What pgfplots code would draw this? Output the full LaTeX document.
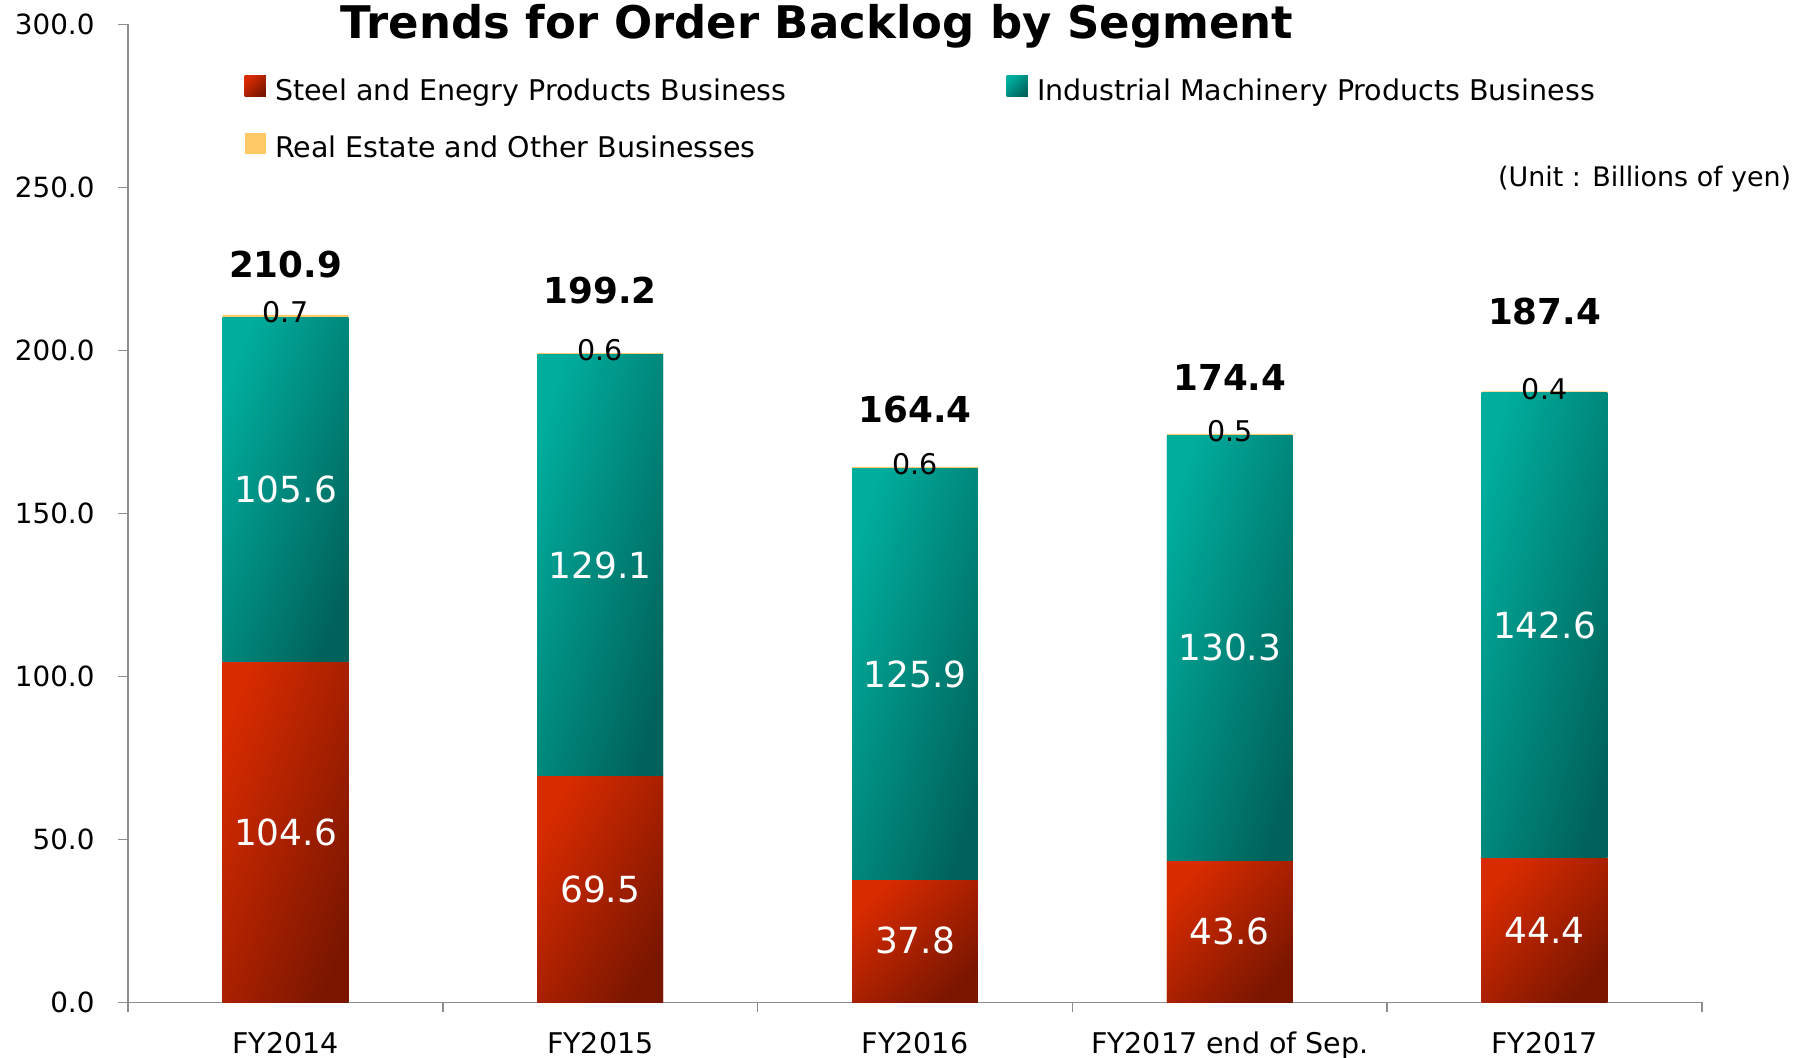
\documentclass[border=0pt]{standalone}
\usepackage{pgfplots}
\pgfplotsset{compat=1.18}
\usepackage{fontspec}
\setmainfont{DejaVu Sans}

\definecolor{redA}{HTML}{D82B00}
\definecolor{redM}{HTML}{A82000}
\definecolor{redB}{HTML}{7A1600}
\definecolor{tealA}{HTML}{00AE9E}
\definecolor{tealM}{HTML}{00887C}
\definecolor{tealB}{HTML}{00625A}
\definecolor{gold}{HTML}{FFC965}
\definecolor{axgray}{HTML}{8C8C8C}

% order backlog, billions of yen; dist = gap (pt) of the bold total above the bar
\pgfplotstableread{
x steel machinery other total dist
0 104.6 105.6 0.7 210.9 16
1 69.5 129.1 0.6 199.2 21
2 37.8 125.9 0.6 164.4 19
3 43.6 130.3 0.5 174.4 18.5
4 44.4 142.6 0.4 187.4 28.5
}\backlog

\begin{document}
\begin{tikzpicture}
\begin{axis}[
  ybar stacked,
  reverse stacked plots=false,
  scale only axis,
  width=679pt, height=422pt,
  bar width=54.3pt,
  xmin=-0.5, xmax=4.5,
  ymin=0, ymax=300,
  clip=false,
  axis lines*=left,
  axis line style={draw=axgray, line width=0.6pt},
  tick style={draw=axgray, line width=0.6pt},
  tick align=outside,
  major tick length=4.3pt,
  ytick={0,50,...,300},
  /pgf/number format/.cd, fixed, fixed zerofill, precision=1, assume math mode=true,
  /pgfplots/.cd,
  yticklabel style={font=\fontsize{12}{14}\selectfont, anchor=east, inner sep=0pt, xshift=-10pt},
  xtick={-0.5,0.5,...,4.5},
  xticklabels={},
  extra x ticks={0,1,2,3,4},
  extra x tick labels={FY2014,FY2015,FY2016,FY2017 end of Sep.,FY2017},
  extra x tick style={major tick length=0pt},
  xticklabel style={font=\fontsize{12.3}{14}\selectfont, anchor=base, inner sep=0pt, yshift=-22pt},
  legend columns=2,
  legend cell align=left,
  legend style={
    at={(rel axis cs:0.074,0.9476)}, anchor=north west,
    draw=none, fill=none, inner sep=0pt, outer sep=0pt,
    font=\fontsize{12.3}{14}\selectfont,
    nodes={inner sep=0pt, text height=9pt, text depth=3pt},
    row sep=11.2pt,
    /tikz/every odd column/.append style={column sep=4pt},
    /tikz/every even column/.append style={column sep=95pt},
  },
]

% stacked nodes near coords sit at the middle of each segment;
% each one is shaded corner to corner like the original bars
\addplot[draw=none, fill=redM,
  point meta=explicit symbolic, nodes near coords,
  visualization depends on={\thisrow{steel} \as \h},
  visualization depends on={atan(1.406667*\thisrow{steel}/54.3) \as \ang},
  every node near coord/.append style={top color=redA, bottom color=redB, shading angle=\ang,
    anchor=center, minimum width=54.3pt, minimum height={1.406667pt*\h}, inner sep=0pt, outer sep=0pt,
    text=white, font=\fontsize{15.5}{17}\selectfont},
  legend image code/.code={\shade[top color=redA, bottom color=redB, shading angle=45] (0pt,-1.6pt) rectangle (9.2pt,7.6pt);}]
  table[x=x, y=steel, meta=steel] {\backlog};
\addlegendentry{Steel and Enegry Products Business}

\addplot[draw=none, fill=tealM,
  point meta=explicit symbolic, nodes near coords,
  visualization depends on={\thisrow{machinery} \as \h},
  visualization depends on={atan(1.406667*\thisrow{machinery}/54.3) \as \ang},
  every node near coord/.append style={top color=tealA, bottom color=tealB, shading angle=\ang,
    anchor=center, minimum width=54.3pt, minimum height={1.406667pt*\h}, inner sep=0pt, outer sep=0pt,
    text=white, font=\fontsize{15.5}{17}\selectfont},
  legend image code/.code={\shade[top color=tealA, bottom color=tealB, shading angle=45] (0pt,-1.6pt) rectangle (9.2pt,7.6pt);}]
  table[x=x, y=machinery, meta=machinery] {\backlog};
\addlegendentry{Industrial Machinery Products Business}

\addplot[draw=none, fill=gold,
  point meta=explicit symbolic, nodes near coords,
  visualization depends on={\thisrow{total} \as \tot},
  visualization depends on={\thisrow{dist} \as \dist},
  every node near coord/.append style={font=\fontsize{12.3}{14}\selectfont, text=black,
    anchor=center, inner sep=0pt, text height=9pt, text depth=3pt,
    label={[font=\bfseries\fontsize{15.4}{17}\selectfont, anchor=center, label distance={\dist*1pt}, text=black]90:\pgfmathprintnumber[fixed,fixed zerofill,precision=1,assume math mode=true]{\tot}}},
  legend image code/.code={\fill[gold] (0pt,-1.6pt) rectangle (9.2pt,7.6pt);}]
  table[x=x, y=other, meta=other] {\backlog};
\addlegendentry{Real Estate and Other Businesses}

\node[font=\bfseries\fontsize{19.4}{22}\selectfont, anchor=base] at (rel axis cs:0.4378,0.9858) {Trends for Order Backlog by Segment};
\node[font=\fontsize{11.6}{14}\selectfont, anchor=base east, inner sep=0pt] at (rel axis cs:1.057,0.8344) {(Unit : Billions of yen)};

\coordinate (bbsw) at (rel axis cs:-0.0814,-0.0566);
\coordinate (bbne) at (rel axis cs:1.0674,1.0249);
\end{axis}
\pgfresetboundingbox
\path (bbsw) rectangle (bbne);
\end{tikzpicture}
\end{document}
